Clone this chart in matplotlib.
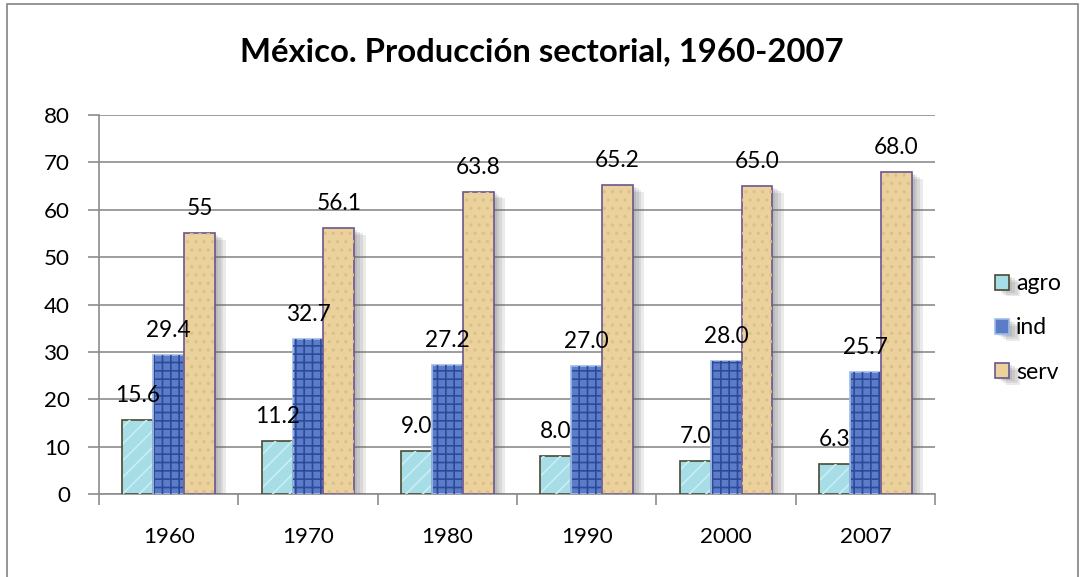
import numpy as np
import matplotlib
matplotlib.use("Agg")
import matplotlib.pyplot as plt
import matplotlib.patheffects as pe
from matplotlib.patches import Rectangle

plt.rcParams['font.family'] = ['Lato', 'DejaVu Sans']
plt.rcParams['hatch.linewidth'] = 1.2

years = ["1960", "1970", "1980", "1990", "2000", "2007"]
agro = [15.6, 11.2, 9.0, 8.0, 7.0, 6.3]
ind = [29.4, 32.7, 27.2, 27.0, 28.0, 25.7]
serv = [55, 56.1, 63.8, 65.2, 65.0, 68.0]
agro_lbl = ["15.6", "11.2", "9.0", "8.0", "7.0", "6.3"]
ind_lbl = ["29.4", "32.7", "27.2", "27.0", "28.0", "25.7"]
serv_lbl = ["55", "56.1", "63.8", "65.2", "65.0", "68.0"]
title = "México. Producción sectorial, 1960-2007"

fig = plt.figure(figsize=(10.81, 5.77), dpi=100)
renderer = fig.canvas.get_renderer()


def fit_size(s, px, weight="normal"):
    # font size that makes string s about px pixels wide
    t = fig.text(0, 0, s, fontsize=10, fontweight=weight)
    wpx = t.get_window_extent(renderer).width
    t.remove()
    return 10 * px / wpx


fs_title = fit_size(title, 605, "bold")
fs_lbl = fit_size("15.6", 45)
fs_tick = fit_size("1960", 52)
fs_leg = fit_size("agro", 45)

# outer chart frame
fig.patches.append(Rectangle((7 / 1081, -0.02), 1071 / 1081, 1 - 4 / 577 + 0.02,
                             transform=fig.transFigure, fill=False,
                             edgecolor="#8c8c8c", linewidth=1.3))

ax = fig.add_axes([0.0916, 0.1438, 0.7734, 0.6569])

x = np.arange(len(years))
w = 0.222
# soft drop shadow made of a few stacked offsets
shadow = [pe.SimplePatchShadow(offset=(d, -d * 0.6), shadow_rgbFace="#606060", alpha=0.13)
          for d in (2, 4, 6, 8)] + [pe.Normal()]

series = [
    (agro, agro_lbl, -w, "#a6dde6", "#4a4a30", "agro", "#c9eff4", "//"),
    (ind, ind_lbl, 0, "#5b7cc9", "#9fbbe8", "ind", "#2d4a98", "++"),
    (serv, serv_lbl, w, "#ebd19c", "#6b5590", "serv", "#dcc08a", ".."),
]
for vals, lbls, off, fc, ec, name, tex, hatch in series:
    bars = ax.bar(x + off, vals, w, color=fc, edgecolor=ec, linewidth=1.2,
                  label=name, zorder=3)
    for b in bars:
        b.set_path_effects(shadow)
    # texture overlay
    ax.bar(x + off, vals, w * 0.94, color="none", edgecolor=tex, hatch=hatch,
           linewidth=0, zorder=3.5)
    for xi, v, t in zip(x + off, vals, lbls):
        ax.text(xi, v + 3.8, t, ha="center", va="baseline", fontsize=fs_lbl, zorder=5)

ax.set_ylim(0, 80)
ax.set_yticks(range(0, 81, 10))
ax.set_xlim(-0.5, len(years) - 0.5)
ax.set_xticks(x)
ax.set_xticklabels(years, fontsize=fs_tick)
ax.tick_params(axis="x", length=0, pad=24)
ax.set_xticks(np.arange(-0.5, len(years)), minor=True)
ax.tick_params(axis="x", which="minor", length=8, color="#8c8c8c", width=1.2)
ax.tick_params(axis="y", labelsize=fs_tick, length=8, color="#8c8c8c", width=1.2, pad=13)
ax.yaxis.grid(True, color="#8c8c8c", linewidth=1.2, zorder=0)
ax.set_axisbelow(True)
for s in ["top", "right"]:
    ax.spines[s].set_visible(False)
for s in ["left", "bottom"]:
    ax.spines[s].set_color("#8c8c8c")
    ax.spines[s].set_linewidth(1.2)

fig.text(0.501, 1 - 61 / 577, title, ha="center", va="baseline",
         fontsize=fs_title, fontweight="bold")

handles, labels = ax.get_legend_handles_labels()
fig.legend(handles, labels, loc="center left", bbox_to_anchor=(995 / 1081, 1 - 328 / 577),
           frameon=False, fontsize=fs_leg, handlelength=0.62, handleheight=0.62,
           handletextpad=0.3, labelspacing=1.0, borderpad=0, borderaxespad=0)

fig.savefig("out.png", dpi=100)
